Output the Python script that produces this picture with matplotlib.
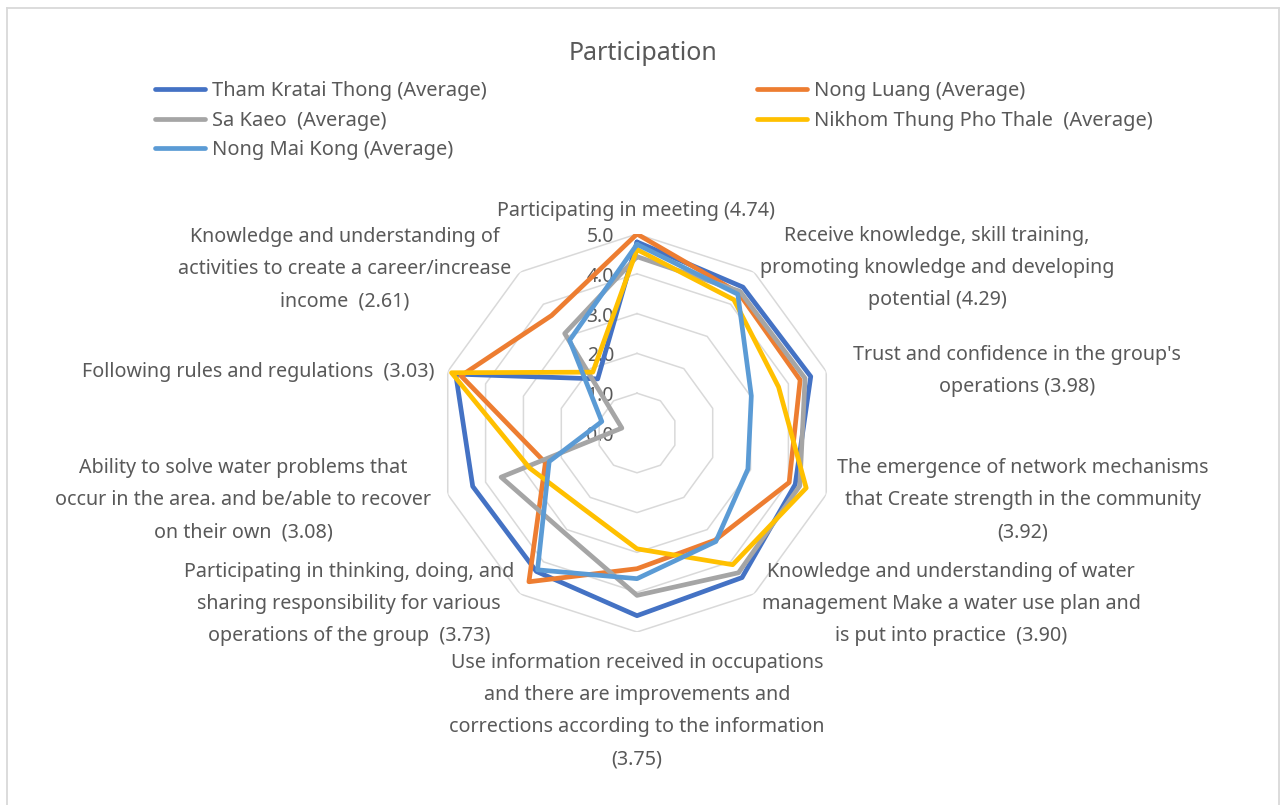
import numpy as np
import matplotlib
matplotlib.use("Agg")
import matplotlib.pyplot as plt
from matplotlib.lines import Line2D
from matplotlib.transforms import offset_copy

plt.rcParams['font.family'] = ['Noto Sans', 'DejaVu Sans']

# axes clockwise from the top
categories = [
    "Participating in meeting (4.74)",
    "Receive knowledge, skill training,\npromoting knowledge and developing\npotential (4.29)",
    "Trust and confidence in the group's\noperations (3.98)",
    "The emergence of network mechanisms\nthat Create strength in the community\n(3.92)",
    "Knowledge and understanding of water\nmanagement Make a water use plan and\nis put into practice  (3.90)",
    "Use information received in occupations\nand there are improvements and\ncorrections according to the information\n(3.75)",
    "Participating in thinking, doing, and\nsharing responsibility for various\noperations of the group  (3.73)",
    "Ability to solve water problems that\noccur in the area. and be/able to recover\non their own  (3.08)",
    "Following rules and regulations  (3.03)",
    "Knowledge and understanding of\nactivities to create a career/increase\nincome  (2.61)",
]

tham_kratai_thong = [4.80, 4.53, 4.59, 4.18, 4.49, 4.59, 4.30, 4.34, 4.79, 1.68]
nong_luang = [5.00, 4.35, 4.31, 4.02, 3.33, 3.41, 4.62, 2.42, 4.65, 3.65]
sa_kaeo = [4.43, 4.40, 4.44, 4.30, 4.34, 4.08, 3.10, 3.59, 0.40, 3.09]
nikhom = [4.61, 4.14, 3.74, 4.47, 4.09, 2.91, 2.33, 2.84, 4.90, 1.89]
nong_mai_kong = [4.74, 4.31, 3.02, 2.93, 3.37, 3.66, 4.25, 2.32, 0.93, 2.88]

series_names = ["Tham Kratai Thong (Average)", "Nong Luang (Average)",
                "Sa Kaeo  (Average)", "Nikhom Thung Pho Thale  (Average)",
                "Nong Mai Kong (Average)"]
series_values = [tham_kratai_thong, nong_luang, sa_kaeo, nikhom, nong_mai_kong]
series_colors = ["#4472C4", "#ED7D31", "#A5A5A5", "#FFC000", "#5B9BD5"]

ring_values = [1, 2, 3, 4, 5]
ring_labels = ["0.0", "1.0", "2.0", "3.0", "4.0", "5.0"]

W, H = 1282, 805
TXT = "#595959"
GRID = "#D9D9D9"


def fx(x):
    return x / W


def fy(y):
    return 1 - y / H


fig = plt.figure(figsize=(W / 100, H / 100), dpi=100)

# chart border
for xs, ys in [((7, 1279), (8, 8)), ((7, 7), (8, 805)), ((1279, 1279), (8, 805))]:
    fig.add_artist(Line2D([fx(xs[0]), fx(xs[1])], [fy(ys[0]), fy(ys[1])],
                          color=GRID, lw=1.3, transform=fig.transFigure))

cx, cy, rad = 637, 433, 199
ax = fig.add_axes([fx(cx - rad), fy(cy + rad), 2 * rad / W, 2 * rad / H],
                  projection='polar')
ax.set_theta_zero_location('N')
ax.set_theta_direction(-1)
ax.set_ylim(0, 5)
ax.grid(False)
ax.spines['polar'].set_visible(False)
ax.set_xticks([])
ax.set_yticks([])
ax.patch.set_alpha(0)

n = len(categories)
angles = np.linspace(0, 2 * np.pi, n, endpoint=False)
closed = np.concatenate([angles, angles[:1]])

for r in ring_values:
    ax.plot(closed, [r] * (n + 1), color=GRID, lw=1.1, zorder=1)

lab_tr = offset_copy(ax.transData, fig=fig, x=-23, y=-3, units='dots')
for i, lab in enumerate(ring_labels):
    ax.text(0, i, lab, transform=lab_tr, ha='right', va='center',
            fontsize=14, color=TXT, zorder=0)

handles = []
for name, vals, col in zip(series_names, series_values, series_colors):
    v = np.array(vals + vals[:1])
    ln, = ax.plot(closed, v, color=col, lw=3.4, solid_joinstyle='round',
                  solid_capstyle='round', zorder=3, label=name)
    handles.append(ln)

# category labels (pixel centres)
label_pos = [(636, 211), (937, 268), (1017, 371), (1023, 500), (951, 604),
             (637, 711), (349, 604), (243, 500), (258, 372), (345, 269)]
for lab, (x, y) in zip(categories, label_pos):
    fig.text(fx(x), fy(y), lab, ha='center', va='center', ma='center',
             fontsize=14.2, color=TXT, linespacing=1.82)

fig.text(fx(643), fy(53), "Participation", ha='center', va='center',
         fontsize=18, color=TXT)

leg_kw = dict(frameon=False, fontsize=14.4, handlelength=2.5, handletextpad=0.35,
              labelspacing=0.48, borderpad=0, borderaxespad=0, loc='upper left')
leg1 = fig.legend([handles[0], handles[2], handles[4]],
                  [series_names[0], series_names[2], series_names[4]],
                  bbox_to_anchor=(fx(155), fy(81)), **leg_kw)
for t in leg1.get_texts():
    t.set_color(TXT)
leg2 = fig.legend([handles[1], handles[3]], [series_names[1], series_names[3]],
                  bbox_to_anchor=(fx(757), fy(81)), **leg_kw)
for t in leg2.get_texts():
    t.set_color(TXT)

fig.savefig("out.png", dpi=100)
